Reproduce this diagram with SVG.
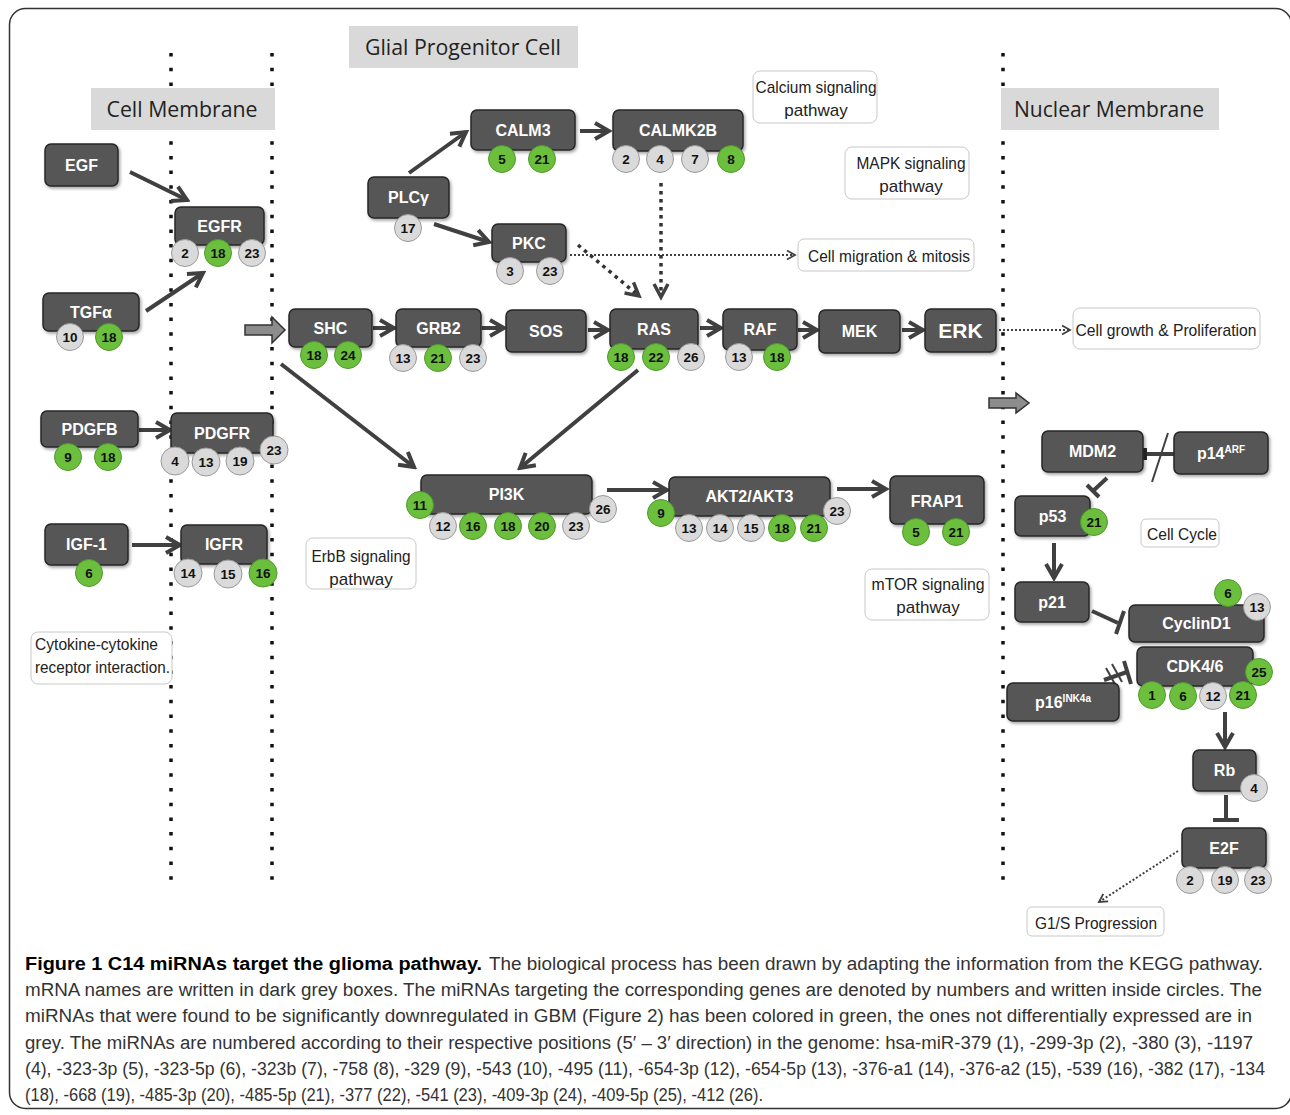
<svg xmlns="http://www.w3.org/2000/svg" width="1290" height="1115" viewBox="0 0 1290 1115">
<defs>
<filter id="sh" x="-10%" y="-10%" width="130%" height="140%">
<feDropShadow dx="1.5" dy="2" stdDeviation="1.5" flood-color="#000" flood-opacity="0.35"/>
</filter>
<marker id="ah" viewBox="0 0 20 20" refX="17" refY="10" markerWidth="20" markerHeight="20" markerUnits="userSpaceOnUse" orient="auto">
<path d="M3,2 L17,10 L3,18" fill="none" stroke="#404040" stroke-width="4" stroke-linejoin="miter"/>
</marker>
<marker id="ahs" viewBox="0 0 12 12" refX="10" refY="6" markerWidth="12" markerHeight="12" markerUnits="userSpaceOnUse" orient="auto">
<path d="M2,1.5 L10,6 L2,10.5" fill="none" stroke="#404040" stroke-width="1.8"/>
</marker>
<marker id="ahd" viewBox="0 0 20 20" refX="16" refY="10" markerWidth="20" markerHeight="20" markerUnits="userSpaceOnUse" orient="auto">
<path d="M3,3 L16,10 L3,17" fill="none" stroke="#404040" stroke-width="3.5"/>
</marker>
</defs>
<style>
.nd{fill:#575757;stroke:#262626;stroke-width:1.5;filter:url(#sh)}
.lb{fill:#fff;font-family:"Liberation Sans",Arial,sans-serif;font-weight:bold;font-size:16px;text-anchor:middle}
.cg{fill:#6cbf3c;stroke:#4e9a2c;stroke-width:1}
.cy{fill:#dadada;stroke:#9a9a9a;stroke-width:1}
.n{fill:#111;font-family:"Liberation Sans",Arial,sans-serif;font-weight:bold;font-size:13.5px;text-anchor:middle}
.bx{fill:#fff;stroke:#c8c8c8;stroke-width:1}
.bt{fill:#222;font-family:"Liberation Sans Narrow","Liberation Sans",Arial,sans-serif;font-size:17px;text-anchor:middle}
.mb{fill:#d9d9d9}
.mt{fill:#222;font-family:"Open Sans","Liberation Sans",sans-serif;font-size:22px;text-anchor:middle}
.dl{stroke:#111;stroke-width:3.5;stroke-dasharray:3.5 11.2}
.ar{stroke:#404040;stroke-width:4;fill:none;marker-end:url(#ah)}
.inh{stroke:#404040;stroke-width:4;fill:none}
.dt{stroke:#404040;stroke-width:2;stroke-dasharray:2 2;fill:none;marker-end:url(#ahs)}
.dtk{stroke:#333;stroke-width:3.5;stroke-dasharray:3.5 4.5;fill:none;marker-end:url(#ahd)}
.blk{fill:#8c8c8c;stroke:#333;stroke-width:1.5}
.cap{fill:#333;font-family:"Liberation Sans Narrow","Liberation Sans",Arial,sans-serif;font-size:18px}
</style>
<rect x="9.5" y="8.5" width="1282" height="1100" rx="16" fill="#fff" stroke="#333" stroke-width="1.5"/>

<!-- membranes -->
<g id="membranes">
<line class="dl" x1="171" y1="53" x2="171" y2="890"/>
<line class="dl" x1="272" y1="53" x2="272" y2="890"/>
<line class="dl" x1="1003" y1="53" x2="1003" y2="890"/>
<rect class="mb" x="91" y="88" width="184" height="42"/>
<text class="mt" x="182" y="117" textLength="151" lengthAdjust="spacingAndGlyphs">Cell Membrane</text>
<rect class="mb" x="349" y="26" width="229" height="42"/>
<text class="mt" x="463" y="55" textLength="196" lengthAdjust="spacingAndGlyphs">Glial Progenitor Cell</text>
<rect class="mb" x="1001" y="88" width="218" height="42"/>
<text class="mt" x="1109" y="117" textLength="190" lengthAdjust="spacingAndGlyphs">Nuclear Membrane</text>
</g>

<!-- pathway boxes -->
<g id="labels">
<rect class="bx" x="753" y="71" width="124" height="52" rx="7"/>
<text class="bt" x="816" y="93" textLength="121" lengthAdjust="spacingAndGlyphs">Calcium signaling</text>
<text class="bt" x="816" y="116">pathway</text>
<rect class="bx" x="845" y="147" width="124" height="52" rx="7"/>
<text class="bt" x="911" y="169" textLength="109" lengthAdjust="spacingAndGlyphs">MAPK signaling</text>
<text class="bt" x="911" y="192">pathway</text>
<rect class="bx" x="798" y="239" width="176" height="32" rx="6"/>
<text class="bt" x="889" y="262" textLength="162" lengthAdjust="spacingAndGlyphs">Cell migration &amp; mitosis</text>
<rect class="bx" x="1073" y="308" width="187" height="41" rx="7"/>
<text class="bt" x="1166" y="336" textLength="181" lengthAdjust="spacingAndGlyphs">Cell growth &amp; Proliferation</text>
<rect class="bx" x="306" y="538" width="110" height="51" rx="7"/>
<text class="bt" x="361" y="562" textLength="99" lengthAdjust="spacingAndGlyphs">ErbB signaling</text>
<text class="bt" x="361" y="585">pathway</text>
<rect class="bx" x="865" y="569" width="124" height="51" rx="7"/>
<text class="bt" x="928" y="590" textLength="113" lengthAdjust="spacingAndGlyphs">mTOR signaling</text>
<text class="bt" x="928" y="613">pathway</text>
<rect class="bx" x="31" y="632" width="141" height="52" rx="7"/>
<text class="bt" x="35" y="650" style="text-anchor:start" textLength="123" lengthAdjust="spacingAndGlyphs">Cytokine-cytokine</text>
<text class="bt" x="35" y="673" style="text-anchor:start" textLength="135" lengthAdjust="spacingAndGlyphs">receptor interaction.</text>
<rect class="bx" x="1141" y="519" width="78" height="28" rx="5"/>
<text class="bt" x="1182" y="540" textLength="70" lengthAdjust="spacingAndGlyphs">Cell Cycle</text>
<rect class="bx" x="1027" y="907" width="137" height="29" rx="5"/>
<text class="bt" x="1096" y="929" textLength="122" lengthAdjust="spacingAndGlyphs">G1/S Progression</text>
</g>

<!-- connectors -->
<g id="connectors">
<line class="ar" x1="130" y1="172" x2="187" y2="200"/>
<line class="ar" x1="146" y1="311" x2="203" y2="273"/>
<line class="ar" x1="139" y1="430" x2="170" y2="430"/>
<line class="ar" x1="132" y1="545" x2="180" y2="545"/>
<line class="ar" x1="409" y1="173" x2="466" y2="132"/>
<line class="ar" x1="434" y1="224" x2="489" y2="242"/>
<line class="ar" x1="580" y1="131" x2="609" y2="131"/>
<line class="ar" x1="373" y1="328" x2="394" y2="328"/>
<line class="ar" x1="482" y1="328" x2="504" y2="328"/>
<line class="ar" x1="588" y1="330" x2="608" y2="330"/>
<line class="ar" x1="700" y1="328" x2="721" y2="328"/>
<line class="ar" x1="798" y1="330" x2="817" y2="330"/>
<line class="ar" x1="902" y1="330" x2="923" y2="330"/>
<line class="ar" x1="281" y1="364" x2="414" y2="467"/>
<line class="ar" x1="638" y1="370" x2="520" y2="468"/>
<line class="ar" x1="607" y1="490" x2="667" y2="490"/>
<line class="ar" x1="837" y1="489" x2="886" y2="489"/>
<line class="ar" x1="1054" y1="543" x2="1054" y2="578"/>
<line class="ar" x1="1225" y1="712" x2="1225" y2="747"/>
<line class="dt" x1="570" y1="255" x2="795" y2="255"/>
<line class="dtk" x1="578" y1="245" x2="639" y2="296"/>
<line class="dtk" x1="661" y1="183" x2="661" y2="297"/>
<line class="dt" x1="999" y1="330" x2="1070" y2="330"/>
<line class="dt" x1="1178" y1="851" x2="1099" y2="902"/>
<polygon class="blk" points="245,325 272,325 272,317 285,330 272,343 272,335 245,335"/>
<polygon class="blk" points="989,398 1016,398 1016,393 1029,403 1016,413 1016,408 989,408"/>
<!-- inhibitions -->
<rect x="1142" y="448" width="5" height="12" fill="#2a2a2a"/>
<line class="inh" x1="1147" y1="454" x2="1174" y2="454"/>
<line x1="1152" y1="482" x2="1168" y2="433" stroke="#404040" stroke-width="2"/>
<line class="inh" x1="1107" y1="478" x2="1093" y2="491"/>
<line class="inh" x1="1087" y1="485" x2="1099" y2="497"/>
<line class="inh" x1="1092" y1="611" x2="1118" y2="623"/>
<line class="inh" x1="1124" y1="611" x2="1116" y2="634"/>
<line class="inh" x1="1104" y1="680" x2="1127" y2="672"/>
<line class="inh" x1="1124" y1="661" x2="1131" y2="684"/>
<line x1="1106" y1="668" x2="1116" y2="686" stroke="#404040" stroke-width="2"/>
<line x1="1112" y1="664" x2="1122" y2="682" stroke="#404040" stroke-width="2"/>
<line class="inh" x1="1226" y1="795" x2="1226" y2="820"/>
<line class="inh" x1="1213" y1="820" x2="1239" y2="820"/>
</g>

<!-- nodes -->
<g id="n-egf"><rect class="nd" x="45" y="144" width="73" height="42" rx="6"/><text class="lb" x="81.5" y="170.5">EGF</text></g>
<g id="n-egfr"><rect class="nd" x="175" y="207" width="89" height="38" rx="6"/><text class="lb" x="219.5" y="231.5">EGFR</text>
<circle class="cy" cx="185" cy="253" r="13.5"/><text class="n" x="185" y="258">2</text>
<circle class="cg" cx="218" cy="253" r="13.5"/><text class="n" x="218" y="258">18</text>
<circle class="cy" cx="252" cy="253" r="13.5"/><text class="n" x="252" y="258">23</text></g>
<g id="n-tgfa"><rect class="nd" x="43" y="293" width="96" height="38" rx="6"/><text class="lb" x="91" y="318">TGFα</text>
<circle class="cy" cx="70" cy="337" r="13.5"/><text class="n" x="70" y="342">10</text>
<circle class="cg" cx="109" cy="337" r="13.5"/><text class="n" x="109" y="342">18</text></g>
<g id="n-pdgfb"><rect class="nd" x="41" y="411" width="97" height="36" rx="6"/><text class="lb" x="89.5" y="434.5">PDGFB</text>
<circle class="cg" cx="68" cy="457" r="13.5"/><text class="n" x="68" y="462">9</text>
<circle class="cg" cx="108" cy="457" r="13.5"/><text class="n" x="108" y="462">18</text></g>
<g id="n-pdgfr"><rect class="nd" x="171" y="413" width="102" height="40" rx="6"/><text class="lb" x="222" y="438.5">PDGFR</text>
<circle class="cy" cx="175" cy="461" r="14"/><text class="n" x="175" y="466">4</text>
<circle class="cy" cx="206" cy="462" r="14"/><text class="n" x="206" y="467">13</text>
<circle class="cy" cx="240" cy="461" r="14"/><text class="n" x="240" y="466">19</text>
<circle class="cy" cx="274" cy="450" r="14"/><text class="n" x="274" y="455">23</text></g>
<g id="n-igf1"><rect class="nd" x="45" y="524" width="83" height="41" rx="6"/><text class="lb" x="86.5" y="550">IGF-1</text>
<circle class="cg" cx="89" cy="573" r="13.5"/><text class="n" x="89" y="578">6</text></g>
<g id="n-igfr"><rect class="nd" x="181" y="525" width="86" height="39" rx="6"/><text class="lb" x="224" y="550">IGFR</text>
<circle class="cy" cx="188" cy="573" r="14"/><text class="n" x="188" y="578">14</text>
<circle class="cy" cx="228" cy="574" r="14"/><text class="n" x="228" y="579">15</text>
<circle class="cg" cx="263" cy="573" r="14"/><text class="n" x="263" y="578">16</text></g>
<g id="n-plcg"><rect class="nd" x="368" y="177" width="81" height="41" rx="6"/><text class="lb" x="408.5" y="203">PLCγ</text>
<circle class="cy" cx="408" cy="228" r="13.5"/><text class="n" x="408" y="233">17</text></g>
<g id="n-calm3"><rect class="nd" x="471" y="110" width="104" height="40" rx="6"/><text class="lb" x="523" y="135.5">CALM3</text>
<circle class="cg" cx="502" cy="159" r="13.5"/><text class="n" x="502" y="164">5</text>
<circle class="cg" cx="542" cy="159" r="13.5"/><text class="n" x="542" y="164">21</text></g>
<g id="n-calmk2b"><rect class="nd" x="613" y="110" width="130" height="41" rx="6"/><text class="lb" x="678" y="136">CALMK2B</text>
<circle class="cy" cx="626" cy="159" r="13.5"/><text class="n" x="626" y="164">2</text>
<circle class="cy" cx="660" cy="159" r="13.5"/><text class="n" x="660" y="164">4</text>
<circle class="cy" cx="695" cy="159" r="13.5"/><text class="n" x="695" y="164">7</text>
<circle class="cg" cx="731" cy="159" r="13.5"/><text class="n" x="731" y="164">8</text></g>
<g id="n-pkc"><rect class="nd" x="492" y="224" width="74" height="38" rx="6"/><text class="lb" x="529" y="248.5">PKC</text>
<circle class="cy" cx="510" cy="271" r="13.5"/><text class="n" x="510" y="276">3</text>
<circle class="cy" cx="550" cy="271" r="13.5"/><text class="n" x="550" y="276">23</text></g>
<g id="n-shc"><rect class="nd" x="289" y="309" width="83" height="38" rx="6"/><text class="lb" x="330.5" y="333.5">SHC</text>
<circle class="cg" cx="314" cy="355" r="13.5"/><text class="n" x="314" y="360">18</text>
<circle class="cg" cx="348" cy="355" r="13.5"/><text class="n" x="348" y="360">24</text></g>
<g id="n-grb2"><rect class="nd" x="396" y="309" width="85" height="38" rx="6"/><text class="lb" x="438.5" y="333.5">GRB2</text>
<circle class="cy" cx="403" cy="358" r="13.5"/><text class="n" x="403" y="363">13</text>
<circle class="cg" cx="438" cy="358" r="13.5"/><text class="n" x="438" y="363">21</text>
<circle class="cy" cx="473" cy="358" r="13.5"/><text class="n" x="473" y="363">23</text></g>
<g id="n-sos"><rect class="nd" x="506" y="310" width="80" height="42" rx="6"/><text class="lb" x="546" y="336.5">SOS</text></g>
<g id="n-ras"><rect class="nd" x="610" y="309" width="88" height="40" rx="6"/><text class="lb" x="654" y="334.5">RAS</text>
<circle class="cg" cx="621" cy="357" r="13.5"/><text class="n" x="621" y="362">18</text>
<circle class="cg" cx="656" cy="357" r="13.5"/><text class="n" x="656" y="362">22</text>
<circle class="cy" cx="691" cy="357" r="13.5"/><text class="n" x="691" y="362">26</text></g>
<g id="n-raf"><rect class="nd" x="723" y="309" width="74" height="41" rx="6"/><text class="lb" x="760" y="335">RAF</text>
<circle class="cy" cx="739" cy="357" r="13.5"/><text class="n" x="739" y="362">13</text>
<circle class="cg" cx="777" cy="357" r="13.5"/><text class="n" x="777" y="362">18</text></g>
<g id="n-mek"><rect class="nd" x="819" y="310" width="81" height="43" rx="6"/><text class="lb" x="859.5" y="337">MEK</text></g>
<g id="n-erk"><rect class="nd" x="925" y="309" width="71" height="43" rx="6"/><text class="lb" x="960.5" y="338" style="font-size:21px">ERK</text></g>
<g id="n-pi3k"><rect class="nd" x="421" y="475" width="171" height="39" rx="6"/><text class="lb" x="506.5" y="500">PI3K</text>
<circle class="cg" cx="420" cy="505" r="13.5"/><text class="n" x="420" y="510">11</text>
<circle class="cy" cx="443" cy="526" r="13.5"/><text class="n" x="443" y="531">12</text>
<circle class="cg" cx="473" cy="526" r="13.5"/><text class="n" x="473" y="531">16</text>
<circle class="cg" cx="508" cy="526" r="13.5"/><text class="n" x="508" y="531">18</text>
<circle class="cg" cx="542" cy="526" r="13.5"/><text class="n" x="542" y="531">20</text>
<circle class="cy" cx="576" cy="526" r="13.5"/><text class="n" x="576" y="531">23</text>
<circle class="cy" cx="603" cy="509" r="13.5"/><text class="n" x="603" y="514">26</text></g>
<g id="n-akt"><rect class="nd" x="669" y="477" width="161" height="39" rx="6"/><text class="lb" x="749.5" y="502">AKT2/AKT3</text>
<circle class="cg" cx="661" cy="513" r="13.5"/><text class="n" x="661" y="518">9</text>
<circle class="cy" cx="689" cy="528" r="13.5"/><text class="n" x="689" y="533">13</text>
<circle class="cy" cx="720" cy="528" r="13.5"/><text class="n" x="720" y="533">14</text>
<circle class="cy" cx="751" cy="528" r="13.5"/><text class="n" x="751" y="533">15</text>
<circle class="cg" cx="782" cy="528" r="13.5"/><text class="n" x="782" y="533">18</text>
<circle class="cg" cx="814" cy="528" r="13.5"/><text class="n" x="814" y="533">21</text>
<circle class="cy" cx="837" cy="511" r="13.5"/><text class="n" x="837" y="516">23</text></g>
<g id="n-frap1"><rect class="nd" x="890" y="476" width="94" height="48" rx="6"/><text class="lb" x="937" y="507">FRAP1</text>
<circle class="cg" cx="916" cy="532" r="13.5"/><text class="n" x="916" y="537">5</text>
<circle class="cg" cx="956" cy="532" r="13.5"/><text class="n" x="956" y="537">21</text></g>
<g id="n-mdm2"><rect class="nd" x="1042" y="431" width="101" height="41" rx="6"/><text class="lb" x="1092.5" y="457">MDM2</text></g>
<g id="n-p14"><rect class="nd" x="1174" y="432" width="94" height="42" rx="6"/><text class="lb" x="1221" y="459">p14<tspan font-size="10" dy="-6">ARF</tspan></text></g>
<g id="n-p53"><rect class="nd" x="1015" y="496" width="75" height="40" rx="6"/><text class="lb" x="1052.5" y="521.5">p53</text>
<circle class="cg" cx="1094" cy="522" r="13.5"/><text class="n" x="1094" y="527">21</text></g>
<g id="n-p21"><rect class="nd" x="1015" y="582" width="74" height="40" rx="6"/><text class="lb" x="1052" y="607.5">p21</text></g>
<g id="n-cyclind1"><rect class="nd" x="1129" y="605" width="135" height="37" rx="6"/><text class="lb" x="1196.5" y="629">CyclinD1</text>
<circle class="cg" cx="1228" cy="593" r="13.5"/><text class="n" x="1228" y="598">6</text>
<circle class="cy" cx="1257" cy="607" r="13.5"/><text class="n" x="1257" y="612">13</text></g>
<g id="n-cdk46"><rect class="nd" x="1137" y="647" width="116" height="39" rx="6"/><text class="lb" x="1195" y="672">CDK4/6</text>
<circle class="cg" cx="1259" cy="672" r="13.5"/><text class="n" x="1259" y="677">25</text>
<circle class="cg" cx="1152" cy="695" r="13.5"/><text class="n" x="1152" y="700">1</text>
<circle class="cg" cx="1183" cy="696" r="13.5"/><text class="n" x="1183" y="701">6</text>
<circle class="cy" cx="1213" cy="696" r="13.5"/><text class="n" x="1213" y="701">12</text>
<circle class="cg" cx="1243" cy="695" r="13.5"/><text class="n" x="1243" y="700">21</text></g>
<g id="n-p16"><rect class="nd" x="1007" y="683" width="112" height="38" rx="6"/><text class="lb" x="1063" y="708">p16<tspan font-size="10" dy="-6">INK4a</tspan></text></g>
<g id="n-rb"><rect class="nd" x="1193" y="750" width="63" height="41" rx="6"/><text class="lb" x="1224.5" y="776">Rb</text>
<circle class="cy" cx="1254" cy="788" r="13.5"/><text class="n" x="1254" y="793">4</text></g>
<g id="n-e2f"><rect class="nd" x="1182" y="828" width="84" height="40" rx="6"/><text class="lb" x="1224" y="853.5">E2F</text>
<circle class="cy" cx="1190" cy="880" r="13.5"/><text class="n" x="1190" y="885">2</text>
<circle class="cy" cx="1225" cy="880" r="13.5"/><text class="n" x="1225" y="885">19</text>
<circle class="cy" cx="1258" cy="880" r="13.5"/><text class="n" x="1258" y="885">23</text></g>

<!-- caption -->
<g id="caption">
<text class="cap" x="25" y="970" style="fill:#000;font-weight:bold" textLength="457" lengthAdjust="spacingAndGlyphs">Figure 1 C14 miRNAs target the glioma pathway.</text>
<text class="cap" x="489" y="970" textLength="774" lengthAdjust="spacingAndGlyphs">The biological process has been drawn by adapting the information from the KEGG pathway.</text>
<text class="cap" x="25" y="996" textLength="1237" lengthAdjust="spacingAndGlyphs">mRNA names are written in dark grey boxes. The miRNAs targeting the corresponding genes are denoted by numbers and written inside circles. The</text>
<text class="cap" x="25" y="1022" textLength="1227" lengthAdjust="spacingAndGlyphs">miRNAs that were found to be significantly downregulated in GBM (Figure 2) has been colored in green, the ones not differentially expressed are in</text>
<text class="cap" x="25" y="1049" textLength="1228" lengthAdjust="spacingAndGlyphs">grey. The miRNAs are numbered according to their respective positions (5′ – 3′ direction) in the genome: hsa-miR-379 (1), -299-3p (2), -380 (3), -1197</text>
<text class="cap" x="25" y="1075" textLength="1240" lengthAdjust="spacingAndGlyphs">(4), -323-3p (5), -323-5p (6), -323b (7), -758 (8), -329 (9), -543 (10), -495 (11), -654-3p (12), -654-5p (13), -376-a1 (14), -376-a2 (15), -539 (16), -382 (17), -134</text>
<text class="cap" x="25" y="1101" textLength="738" lengthAdjust="spacingAndGlyphs">(18), -668 (19), -485-3p (20), -485-5p (21), -377 (22), -541 (23), -409-3p (24), -409-5p (25), -412 (26).</text>
</g>
</svg>
